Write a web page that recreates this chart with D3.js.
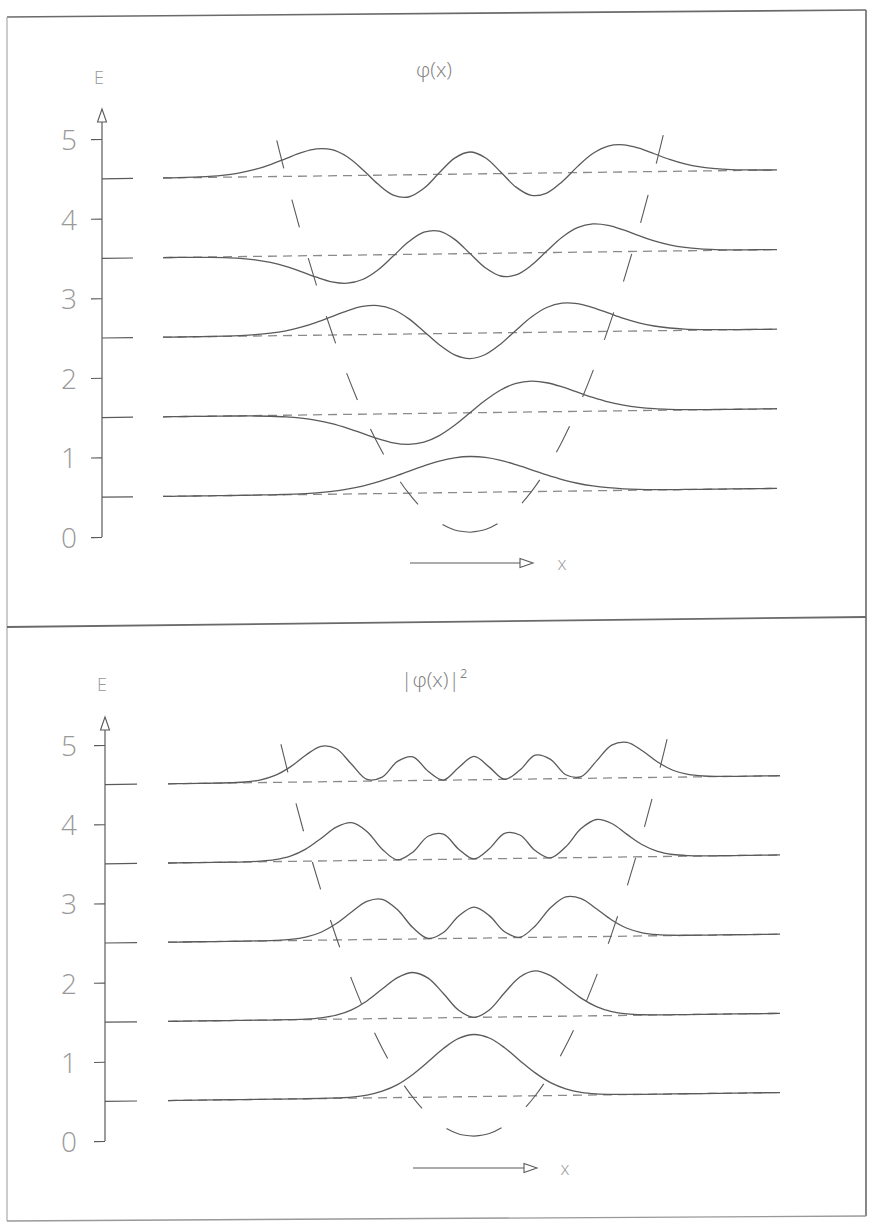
<!DOCTYPE html>
<html><head><meta charset="utf-8">
<script src="https://cdn.jsdelivr.net/npm/d3@7/dist/d3.min.js"></script>
<style>html,body{margin:0;padding:0;background:#fff;}svg{display:block}</style>
</head><body>
<script>
// ---------- data ----------
const xGrid = [-5,-4.75,-4.5,-4.25,-4,-3.75,-3.5,-3.25,-3,-2.75,-2.5,-2.25,-2,-1.75,-1.5,-1.25,-1,-0.75,-0.5,-0.25,0,
  0.25,0.5,0.75,1,1.25,1.5,1.75,2,2.25,2.5,2.75,3,3.25,3.5,3.75,4,4.25,4.5,4.75,5];
const energyTicks = [0,1,2,3,4,5];
const tickLabels = ["0","1","2","3","4","5"];
const levels = [0.5,1.5,2.5,3.5,4.5];

// wave functions phi_n(x)
const psi0 = [0,0,0,0,0,0.001,0.002,0.004,0.008,0.017,0.033,0.060,0.102,0.162,0.244,0.344,0.456,0.567,0.663,0.728,0.751,0.728,0.663,0.567,0.456,0.344,0.244,0.162,0.102,0.060,0.033,0.017,0.008,0.004,0.002,0.001,0,0,0,0,0];
const psi1 = [0,0,0,-0.001,-0.001,-0.004,-0.008,-0.018,-0.035,-0.067,-0.117,-0.190,-0.288,-0.402,-0.517,-0.608,-0.644,-0.601,-0.469,-0.257,0,0.257,0.469,0.601,0.644,0.608,0.517,0.402,0.288,0.190,0.117,0.067,0.035,0.018,0.008,0.004,0.001,0.001,0,0,0];
const psi2 = [0,0,0.001,0.002,0.006,0.013,0.027,0.054,0.100,0.171,0.268,0.386,0.503,0.589,0.604,0.517,0.322,0.050,-0.234,-0.450,-0.531,-0.450,-0.234,0.050,0.322,0.517,0.604,0.589,0.503,0.386,0.268,0.171,0.100,0.054,0.027,0.013,0.006,0.002,0.001,0,0];
const psi3 = [0,-0.001,-0.003,-0.007,-0.017,-0.036,-0.071,-0.130,-0.217,-0.330,-0.453,-0.553,-0.587,-0.513,-0.317,-0.031,0.263,0.460,0.478,0.302,0,-0.302,-0.478,-0.460,-0.263,0.031,0.317,0.513,0.587,0.553,0.453,0.330,0.217,0.130,0.071,0.036,0.017,0.007,0.003,0.001,0];
const psi4 = [0.001,0.003,0.009,0.020,0.043,0.085,0.153,0.252,0.373,0.493,0.568,0.546,0.394,0.125,-0.187,-0.420,-0.465,-0.288,0.034,0.337,0.460,0.337,0.034,-0.288,-0.465,-0.420,-0.187,0.125,0.394,0.546,0.568,0.493,0.373,0.252,0.153,0.085,0.043,0.020,0.009,0.003,0.001];

// probability densities |phi_n(x)|^2
const prob0 = [0,0,0,0,0,0,0,0,0,0,0.001,0.004,0.010,0.026,0.060,0.118,0.208,0.321,0.440,0.530,0.564,0.530,0.440,0.321,0.208,0.118,0.060,0.026,0.010,0.004,0.001,0,0,0,0,0,0,0,0,0,0];
const prob1 = [0,0,0,0,0,0,0,0,0.001,0.004,0.014,0.036,0.083,0.162,0.268,0.370,0.415,0.362,0.220,0.066,0,0.066,0.220,0.362,0.415,0.370,0.268,0.162,0.083,0.036,0.014,0.004,0.001,0,0,0,0,0,0,0,0];
const prob2 = [0,0,0,0,0,0,0.001,0.003,0.010,0.029,0.072,0.149,0.253,0.347,0.364,0.267,0.104,0.003,0.055,0.203,0.282,0.203,0.055,0.003,0.104,0.267,0.364,0.347,0.253,0.149,0.072,0.029,0.010,0.003,0.001,0,0,0,0,0,0];
const prob3 = [0,0,0,0,0,0.001,0.005,0.017,0.047,0.109,0.205,0.306,0.344,0.263,0.100,0.001,0.069,0.212,0.229,0.091,0,0.091,0.229,0.212,0.069,0.001,0.100,0.263,0.344,0.306,0.205,0.109,0.047,0.017,0.005,0.001,0,0,0,0,0];
const prob4 = [0,0,0,0,0.002,0.007,0.023,0.063,0.139,0.243,0.322,0.298,0.155,0.016,0.035,0.176,0.216,0.083,0.001,0.113,0.212,0.113,0.001,0.083,0.216,0.176,0.035,0.016,0.155,0.298,0.322,0.243,0.139,0.063,0.023,0.007,0.002,0,0,0,0];

// harmonic potential V(x), right half (left half is its mirror image)
const potX = [0,0.25,0.5,0.75,1,1.25,1.5,1.75,2,2.25,2.5,2.75,3,3.25];
const potV = [0,0.031,0.125,0.281,0.5,0.781,1.125,1.531,2,2.531,3.125,3.781,4.5,5.281];

const titles = ["φ(x)", "|φ(x)|²"];

// ---------- drawing ----------
const W = 869, H = 1228;
const svg = d3.select("body").append("svg").attr("width", W).attr("height", H);
svg.append("rect").attr("width", W).attr("height", H).attr("fill", "#fff");

const INK = "#5a5a5a", LIGHT = "#8a8a8a", TXT = "#999";
const FONT = "'Open Sans','DejaVu Sans',sans-serif";

// outer frame (scanned page)
const frame = svg.append("g").attr("stroke", "#6a6a6a").attr("fill", "none");
frame.append("line").attr("x1",7).attr("y1",17).attr("x2",866).attr("y2",10).attr("stroke-width",1.6);
frame.append("line").attr("x1",7).attr("y1",17).attr("x2",7).attr("y2",1221).attr("stroke-width",1.2).attr("stroke","#aaa");
frame.append("line").attr("x1",866).attr("y1",10).attr("x2",866).attr("y2",1216).attr("stroke-width",1.6);
frame.append("line").attr("x1",7).attr("y1",627).attr("x2",866).attr("y2",617).attr("stroke-width",1.8);
frame.append("line").attr("x1",7).attr("y1",1221).attr("x2",866).attr("y2",1216).attr("stroke-width",1.4).attr("stroke","#999");

const panels = [
  {series:[psi0,psi1,psi2,psi3,psi4], amp:0.6, axisX:102, y0:537, unit:79.6, tip:109,
   xl:163, xr:777, lvlEnd:133, labelX:69, title:titles[0], titleX:434, titleY:77, eX:99, eY:84,
   arY:563, arX0:410, arX1:533, xlabX:562},
  {series:[prob0,prob1,prob2,prob3,prob4], amp:1.39, axisX:105, y0:1141, unit:79.2, tip:717,
   xl:168, xr:780, lvlEnd:137, labelX:69, title:titles[1], titleX:434, titleY:687, eX:102, eY:691,
   arY:1168, arX0:413, arX1:537, xlabX:565}
];

panels.forEach(p => {
  const x = d3.scaleLinear().domain([-5, 5]).range([p.xl, p.xr]);
  const y = d3.scaleLinear().domain([0, 5]).range([p.y0, p.y0 - 5 * p.unit]);

  // texts (not skewed)
  svg.append("text").attr("x", p.titleX).attr("y", p.titleY).attr("text-anchor","middle")
    .attr("font-family", FONT).attr("font-weight",300).attr("font-size",21).attr("fill","#808080").text(p.title);
  svg.append("text").attr("x", p.eX).attr("y", p.eY).attr("text-anchor","middle")
    .attr("font-family", FONT).attr("font-weight",300).attr("font-size",18).attr("fill",TXT).text("E");
  svg.selectAll(null).data(energyTicks).enter().append("text")
    .attr("x", p.labelX).attr("y", d => y(d) + 11).attr("text-anchor","middle")
    .attr("font-family", FONT).attr("font-weight",300).attr("font-size",28).attr("fill",TXT)
    .text((d,i) => tickLabels[i]);
  svg.append("text").attr("x", p.xlabX).attr("y", p.arY + 7).attr("text-anchor","middle")
    .attr("font-family", FONT).attr("font-weight",300).attr("font-size",18).attr("fill",TXT).text("x");

  // x arrow
  svg.append("line").attr("x1",p.arX0).attr("x2",p.arX1-13).attr("y1",p.arY).attr("y2",p.arY)
    .attr("stroke", INK).attr("stroke-width",1.1);
  svg.append("path").attr("d", `M${p.arX1-13},${p.arY-4.5}L${p.arX1},${p.arY}L${p.arX1-13},${p.arY+4.5}Z`)
    .attr("fill","none").attr("stroke",INK).attr("stroke-width",1.1);

  // skewed group (scan is slightly tilted)
  const g = svg.append("g")
    .attr("transform", `translate(${p.axisX},0) skewY(-0.75) translate(${-p.axisX},0)`);

  // y axis
  const axis = d3.axisLeft(y).tickValues(energyTicks).tickSize(11).tickFormat("");
  const ag = g.append("g").attr("transform", `translate(${p.axisX},0)`).call(axis);
  ag.select(".domain").remove();
  ag.selectAll(".tick line").attr("stroke", INK).attr("stroke-width",1.1);
  g.append("line").attr("x1",p.axisX).attr("x2",p.axisX).attr("y1",y(0)).attr("y2",p.tip+13)
    .attr("stroke",INK).attr("stroke-width",1.2);
  g.append("path").attr("d",`M${p.axisX},${p.tip}L${p.axisX+4.5},${p.tip+13}L${p.axisX-4.5},${p.tip+13}Z`)
    .attr("fill","none").attr("stroke",INK).attr("stroke-width",1.1);

  // level marks at the axis
  g.selectAll(null).data(levels).enter().append("line")
    .attr("x1", p.axisX).attr("x2", p.lvlEnd).attr("y1", d => y(d)).attr("y2", d => y(d))
    .attr("stroke", INK).attr("stroke-width",1.2);

  // dashed baselines
  g.selectAll(null).data(levels).enter().append("line")
    .attr("x1", p.xl).attr("x2", p.xr).attr("y1", d => y(d)).attr("y2", d => y(d))
    .attr("stroke", LIGHT).attr("stroke-width",1.3).attr("stroke-dasharray","9,6");

  // potential (long dashes, symmetric about the centre)
  const potLine = d3.line().curve(d3.curveCatmullRom.alpha(0.5));
  [1, -1].forEach(sgn => {
    const pts = potX.map((v, i) => [x(sgn * v), y(potV[i])]);
    g.append("path").attr("d", potLine(pts)).attr("fill","none")
      .attr("stroke", INK).attr("stroke-width",1.1).attr("stroke-dasharray","29,32");
  });

  // curves
  const line = d3.line().curve(d3.curveCatmullRom.alpha(0.5));
  p.series.forEach((s, n) => {
    const pts = xGrid.map((xv, i) => [x(xv), y(levels[n] + p.amp * s[i])]);
    g.append("path").attr("d", line(pts)).attr("fill","none")
      .attr("stroke", INK).attr("stroke-width",1.3);
  });
});
</script>
</body></html>
